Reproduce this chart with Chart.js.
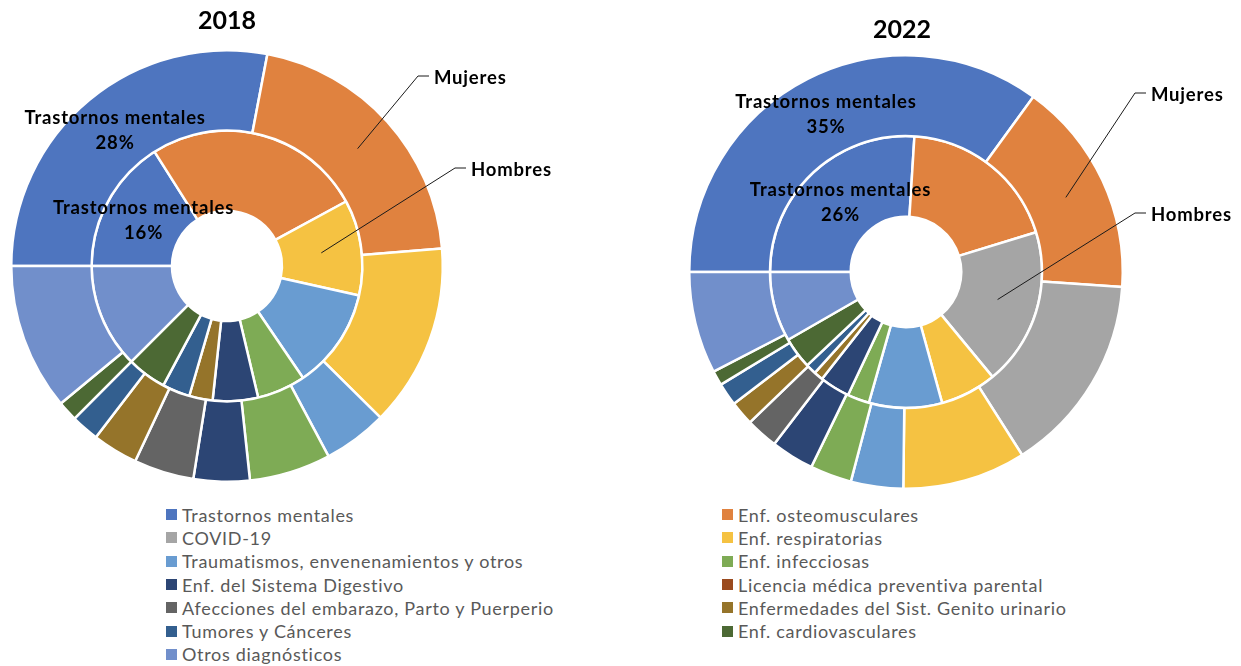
<!DOCTYPE html>
<html lang="es">
<head>
<meta charset="utf-8">
<title>Licencias médicas por diagnóstico, 2018 y 2022</title>
<script src="https://cdn.jsdelivr.net/npm/chart.js@4.4.1/dist/chart.umd.min.js"></script>
<style>
  html, body { margin: 0; padding: 0; background: #ffffff; }
  body { width: 1241px; height: 666px; position: relative; overflow: hidden; }
  canvas { position: absolute; top: 0; }
  #c2018 { left: 0; }
  #c2022 { left: 620px; }
  #legend {
    position: absolute; left: 166px; top: 503px;
    display: grid; grid-template-columns: 556px auto; grid-auto-rows: 23.3px;
    font-family: Lato, "Open Sans", sans-serif; font-size: 18px; letter-spacing: 0.7px; color: #595959;
  }
  #legend .item { display: flex; align-items: center; white-space: nowrap; }
  #legend .swatch { width: 11px; height: 11px; margin-right: 5px; flex: none; }
</style>
</head>
<body>
<canvas id="c2018" width="600" height="500"></canvas>
<canvas id="c2022" width="621" height="500"></canvas>
<div id="legend"></div>
<script>
// Diagnostic groups, in slice order (clockwise from 9 o'clock)
const categories = [
  'Trastornos mentales',
  'Enf. osteomusculares',
  'COVID-19',
  'Enf. respiratorias',
  'Traumatismos, envenenamientos y otros',
  'Enf. infecciosas',
  'Enf. del Sistema Digestivo',
  'Licencia médica preventiva parental',
  'Afecciones del embarazo, Parto y Puerperio',
  'Enfermedades del Sist. Genito urinario',
  'Tumores y Cánceres',
  'Enf. cardiovasculares',
  'Otros diagnósticos'
];

const colors = [
  '#4E75BF', '#E0823F', '#A5A5A5', '#F5C242', '#699CD1', '#7EAB55', '#2C4574',
  '#9A4A1E', '#646464', '#95742A', '#335F8F', '#4C6934', '#718FCB'
];

const seriesNames = ['Mujeres', 'Hombres'];
const years = ['2018', '2022'];

// Share of medical leave by diagnosis (%)
const mujeres2018 = [28, 20.7, 0, 13.7, 4.8, 6.1, 4.2, 0, 4.5, 3.4, 2.1, 1.5, 11.0];
const hombres2018 = [16, 26.1, 0, 11.4, 12.0, 5.8, 5.4, 0, 0, 2.8, 3.3, 4.7, 12.5];
const mujeres2022 = [35, 16.1, 14.9, 9.2, 3.9, 3.1, 3.2, 0, 2.4, 1.8, 1.7, 1.1, 7.6];
const hombres2022 = [26, 19.3, 18.75, 6.7, 8.7, 2.6, 3.6, 0, 0, 1.1, 1.25, 3.75, 8.3];

const LABEL_FONT = 'bold 18.5px Lato, "Open Sans", sans-serif';
const TITLE_FONT = 'bold 25px Lato, "Open Sans", sans-serif';

// Draws the year title, the in-ring percentage labels and the series callouts
const annotations = {
  id: 'annotations',
  afterDatasetsDraw(chart, args, opts) {
    const ctx = chart.ctx;
    ctx.save();
    ctx.fillStyle = '#000';
    ctx.textBaseline = 'middle';

    ctx.font = TITLE_FONT;
    ctx.textAlign = 'center';
    ctx.fillText(opts.title, opts.titleX, opts.titleY);

    ctx.font = LABEL_FONT;
    if ('letterSpacing' in ctx) ctx.letterSpacing = '0.8px';
    for (const lab of opts.sliceLabels) {
      const arc = chart.getDatasetMeta(lab.dataset).data[lab.index];
      const p = arc.getCenterPoint();
      const values = chart.data.datasets[lab.dataset].data;
      const total = values.reduce((a, b) => a + b, 0);
      const pct = Math.round(values[lab.index] / total * 100) + '%';
      ctx.fillText(chart.data.labels[lab.index], p.x, p.y - 12.5);
      ctx.fillText(pct, p.x, p.y + 12.5);
    }

    ctx.strokeStyle = '#1a1a1a';
    ctx.lineWidth = 1;
    ctx.textAlign = 'left';
    for (const c of opts.callouts) {
      const arc = chart.getDatasetMeta(c.dataset).data[c.index];
      const p = arc.getCenterPoint();
      ctx.beginPath();
      ctx.moveTo(p.x, p.y);
      ctx.lineTo(c.elbowX, c.elbowY);
      ctx.lineTo(c.elbowX + 11, c.elbowY);
      ctx.stroke();
      ctx.fillText(chart.data.datasets[c.dataset].label, c.elbowX + 16, c.elbowY + 2);
    }
    ctx.restore();
  }
};

function makeDoughnut(id, year, outer, inner, padding, extra) {
  return new Chart(document.getElementById(id), {
    type: 'doughnut',
    data: {
      labels: categories,
      datasets: [
        { label: seriesNames[0], data: outer, backgroundColor: colors, borderColor: '#ffffff', borderWidth: 2.5 },
        { label: seriesNames[1], data: inner, backgroundColor: colors, borderColor: '#ffffff', borderWidth: 2.5 }
      ]
    },
    options: {
      responsive: false,
      animation: false,
      rotation: -90,
      cutout: '25.5%',
      layout: { padding },
      events: [],
      plugins: {
        legend: { display: false },
        tooltip: { enabled: false },
        annotations: Object.assign({ title: year }, extra)
      }
    },
    plugins: [annotations]
  });
}

makeDoughnut('c2018', years[0], mujeres2018, hombres2018,
  { left: 10, top: 49, right: 156, bottom: 17 },
  {
    titleX: 227, titleY: 21,
    sliceLabels: [{ dataset: 0, index: 0 }, { dataset: 1, index: 0 }],
    callouts: [
      { dataset: 0, index: 1, elbowX: 418, elbowY: 76 },
      { dataset: 1, index: 3, elbowX: 455, elbowY: 168 }
    ]
  });

makeDoughnut('c2022', years[1], mujeres2022, hombres2022,
  { left: 68, top: 54, right: 117, bottom: 10 },
  {
    titleX: 282, titleY: 30,
    sliceLabels: [{ dataset: 0, index: 0 }, { dataset: 1, index: 0 }],
    callouts: [
      { dataset: 0, index: 1, elbowX: 515, elbowY: 93 },
      { dataset: 1, index: 2, elbowX: 515, elbowY: 213 }
    ]
  });

// Shared legend, two columns in slice order
const legend = document.getElementById('legend');
categories.forEach((name, i) => {
  const item = document.createElement('div');
  item.className = 'item';
  const sw = document.createElement('span');
  sw.className = 'swatch';
  sw.style.background = colors[i];
  const txt = document.createElement('span');
  txt.textContent = name;
  item.appendChild(sw);
  item.appendChild(txt);
  legend.appendChild(item);
});
</script>
</body>
</html>
